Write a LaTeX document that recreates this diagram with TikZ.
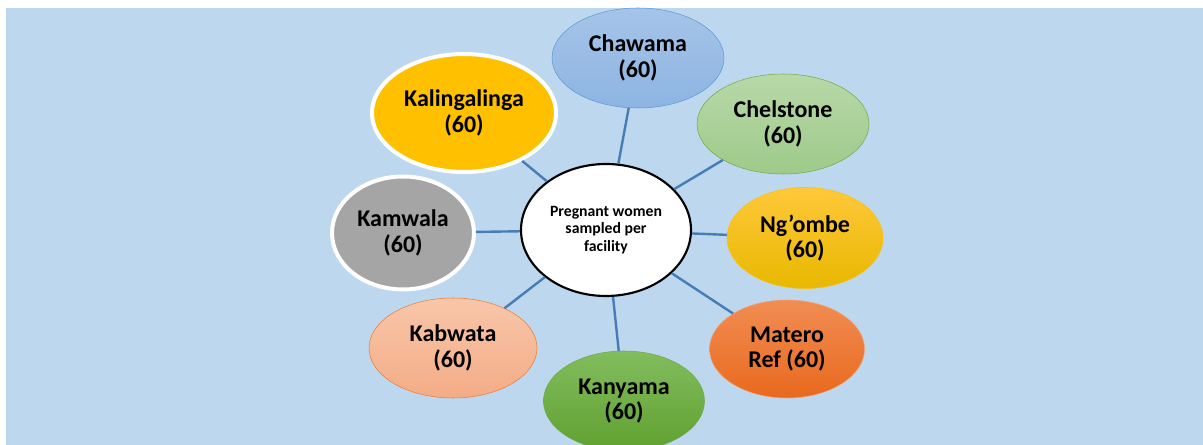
\documentclass[tikz,border=0pt]{standalone}
\usepackage{fontspec}
\setmainfont{Carlito}
\usetikzlibrary{shapes.geometric}
\definecolor{bgblue}{RGB}{189,215,238}
\definecolor{linkblue}{RGB}{70,125,180}
\definecolor{goldfill}{RGB}{255,192,0}
\definecolor{greyfill}{RGB}{165,165,165}

\begin{document}
\begin{tikzpicture}[x=0.75pt,y=0.75pt,yscale=-1,xscale=1,
  place/.style={ellipse, inner sep=0pt, align=center, font=\fontsize{18}{19}\selectfont\bfseries},
  link/.style={draw=linkblue, line width=1.8pt}]
        %set diagram size 1203 x 445
        \useasboundingbox (0,0) rectangle (1203,445);
        \fill [bgblue] (6,8) rectangle (1203,445);

        % Centre
        \node [ellipse, draw=black, line width=1.6pt, fill=white, minimum width=127.5pt, minimum height=99pt, inner sep=0pt, align=center, font=\fontsize{11.8}{13.3}\selectfont\bfseries] (centre) at (606,230) {Pregnant women\\sampled per\\facility};

        % Facilities
        \node [place, draw={rgb,255:red,91;green,155;blue,213}, top color={rgb,255:red,166;green,196;blue,232}, bottom color={rgb,255:red,141;green,180;blue,226}, minimum width=129pt, minimum height=75pt] (chawama) at (638,58) {Chawama\\(60)};
        \node [place, draw={rgb,255:red,112;green,173;blue,71}, top color={rgb,255:red,184;green,216;blue,168}, bottom color={rgb,255:red,158;green,202;blue,138}, minimum width=129pt, minimum height=75pt] (chelstone) at (783,124) {Chelstone\\(60)};
        \node [place, draw={rgb,255:red,255;green,192;blue,0}, top color={rgb,255:red,255;green,200;blue,58}, bottom color={rgb,255:red,232;green,184;blue,0}, minimum width=117pt, minimum height=75.75pt] (ngombe) at (805,238) {Ng’ombe\\(60)};
        \node [place, draw={rgb,255:red,244;green,160;blue,110}, top color={rgb,255:red,241;green,141;blue,83}, bottom color={rgb,255:red,233;green,105;blue,30}, minimum width=116.25pt, minimum height=73.5pt] (matero) at (787,349) {Matero\\Ref (60)};
        \node [place, draw={rgb,255:red,112;green,173;blue,71}, top color={rgb,255:red,130;green,189;blue,94}, bottom color={rgb,255:red,96;green,160;blue,48}, minimum width=120.75pt, minimum height=75pt] (kanyama) at (624,401) {Kanyama\\(60)};
        \node [place, draw={rgb,255:red,237;green,125;blue,49}, top color={rgb,255:red,248;green,198;blue,170}, bottom color={rgb,255:red,244;green,172;blue,134}, minimum width=126pt, minimum height=75pt] (kabwata) at (453,348) {Kabwata\\(60)};
        \node [place, draw=white, line width=3pt, fill=greyfill, minimum width=106.5pt, minimum height=84.75pt] (kamwala) at (403,233) {Kamwala\\(60)};
        \node [place, draw=white, line width=3pt, fill=goldfill, minimum width=138pt, minimum height=88.5pt] (kalingalinga) at (464,113) {Kalingalinga\\(60)};

        % Links
        \foreach \n in {chawama,chelstone,ngombe,matero,kanyama,kabwata,kamwala,kalingalinga}
          \draw [link] (centre) -- (\n);

\end{tikzpicture}
\end{document}
